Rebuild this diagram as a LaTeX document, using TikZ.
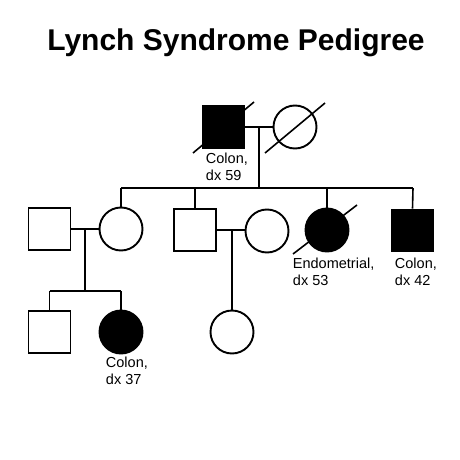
\documentclass[tikz,border=0pt]{standalone}
\usepackage{fontspec}
\setmainfont{Liberation Sans}
\begin{document}
\begin{tikzpicture}[x=1pt,y=-1pt,
  line width=1.9pt,
  male/.style={draw,rectangle,minimum size=42pt,inner sep=0pt},
  female/.style={draw,circle,minimum size=43pt,inner sep=0pt},
  aff/.style={fill=black},
  lbl/.style={font=\fontsize{14.5}{17.5}\selectfont,align=left,anchor=north west,inner sep=0pt},
  rel/.style={line width=1.6pt}]
\useasboundingbox (0,0) rectangle (460,460);
\node[font=\fontsize{30}{34}\selectfont\bfseries] (title) at (236,43) {Lynch Syndrome Pedigree};
% Generation I
\node[male,aff] (gf) at (223.5,127) {};
\node[female] (gm) at (295,127) {};
\draw[rel] (193,153) -- (254,102);
\draw[rel] (265,153) -- (325,103);
\node[lbl] (gfl) at (205,152) {Colon,\\dx 59};
\draw[rel] (gf.east) -- (gm.west);
\coordinate (m1) at (259,127);
\coordinate (s1) at (259,188);
\draw[rel] (m1) -- (s1);
% Generation II
\node[male] (h1) at (49.5,229) {};
\node[female] (d1) at (121,229) {};
\node[male] (s2) at (195,230) {};
\node[female] (w2) at (267,231) {};
\node[female,aff] (d3) at (327,230) {};
\node[male,aff] (s4) at (412.5,230.5) {};
\draw[rel] (293,254) -- (357,205);
\node[lbl] (d3l) at (292,257) {Endometrial,\\dx 53};
\node[lbl] (s4l) at (394,257) {Colon,\\dx 42};
\coordinate (sl) at (121,188);
\coordinate (sr) at (413,188);
\draw[rel] (sl) -- (sr);
\draw[rel] (121,188) -- (d1.north);
\draw[rel] (195,188) -- (s2.north);
\draw[rel] (327,188) -- (d3.north);
\draw[rel] (413,188) -- (s4.north);
\draw[rel] (h1.east) -- (d1.west);
\draw[rel] (s2.east) -- (s2.east -| w2.west);
% Generation III
\node[male] (g1) at (49.5,332) {};
\node[female,aff] (g2) at (121,332) {};
\node[female] (g3) at (232,332) {};
\node[lbl] (g2l) at (105,356) {Colon,\\dx 37};
\draw[rel] (85,229) -- (85,291);
\draw[rel] (49.5,291) -- (121,291);
\draw[rel] (49.5,291) -- (g1.north);
\draw[rel] (121,291) -- (g2.north);
\draw[rel] (232,231) -- (g3.north);
\end{tikzpicture}
\end{document}
